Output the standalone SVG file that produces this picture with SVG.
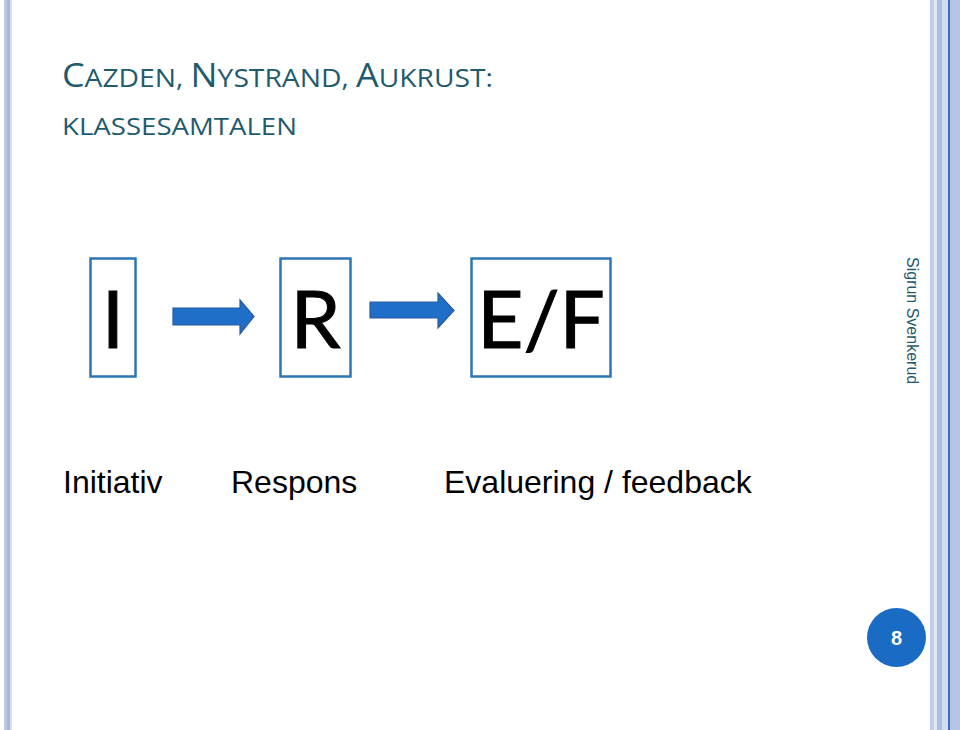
<svg xmlns="http://www.w3.org/2000/svg" width="960" height="730" viewBox="0 0 960 730">
<style>
.title{font-family:"Open Sans",Lato,"Liberation Sans",sans-serif;fill:#1f5b6e}
.box{fill:#ffffff;stroke:#2e75b6;stroke-width:2.5}
.big{font-family:Lato,"Open Sans","Liberation Sans",sans-serif;font-size:80px;fill:#000000;stroke:#000000;stroke-width:1}
.lbl{font-family:"Liberation Sans",Arial,sans-serif;font-size:32px;fill:#000000}
.arrow{fill:#1f6fc8;stroke:#2a5a9c;stroke-width:1.2}
</style>
<rect width="960" height="730" fill="#ffffff"/>
<!-- left bars -->
<rect x="4" y="0" width="3" height="730" fill="#bcc8e6"/>
<rect x="7" y="0" width="3.5" height="730" fill="#a8b6dc"/>
<rect x="10.5" y="0" width="1.5" height="730" fill="#d8e0f2"/>
<!-- right bars -->
<rect x="930" y="0" width="4" height="730" fill="#c3cee9"/>
<rect x="934" y="0" width="3" height="730" fill="#e2e8f5"/>
<rect x="937" y="0" width="5" height="730" fill="#aebcdf"/>
<rect x="942" y="0" width="6" height="730" fill="#d3dcf0"/>
<rect x="948" y="0" width="2" height="730" fill="#3a6cc2"/>
<rect x="950" y="0" width="10" height="730" fill="#b5c3e5"/>

<g id="title">
<text class="title" x="62" y="87" textLength="431" lengthAdjust="spacingAndGlyphs"><tspan font-size="33">C</tspan><tspan font-size="26">AZDEN, </tspan><tspan font-size="33">N</tspan><tspan font-size="26">YSTRAND, </tspan><tspan font-size="33">A</tspan><tspan font-size="26">UKRUST:</tspan></text>
<text class="title" x="62" y="135" font-size="24" textLength="235" lengthAdjust="spacingAndGlyphs">KLASSESAMTALEN</text>
</g>

<g id="node-I">
<rect class="box" x="90.5" y="258.5" width="45" height="118"/>
<text class="big" x="113" y="348" text-anchor="middle">I</text>
</g>
<g id="node-R">
<rect class="box" x="280.5" y="258.5" width="70" height="118"/>
<text class="big" x="315.5" y="348" text-anchor="middle">R</text>
</g>
<g id="node-EF">
<rect class="box" x="471.5" y="258.5" width="139" height="118"/>
<text class="big" x="541" y="348" text-anchor="middle">E/F</text>
</g>

<g id="connectors">
<polygon class="arrow" points="173,308 240,308 240,300 254,316.5 240,334 240,325 173,325"/>
<polygon class="arrow" points="370,302 438,302 438,293 454,310.5 438,328 438,318 370,318"/>
</g>

<g id="labels">
<text class="lbl" x="63" y="493">Initiativ</text>
<text class="lbl" x="231" y="493">Respons</text>
<text class="lbl" x="444" y="493">Evaluering / feedback</text>
</g>

<g id="author">
<text x="0" y="0" transform="translate(907,257) rotate(90)" font-family="'Liberation Sans',Arial,sans-serif" font-size="16" fill="#1f5b6e">Sigrun Svenkerud</text>
</g>

<g id="page">
<circle cx="896.5" cy="637.5" r="29.5" fill="#1a6bc4"/>
<text x="896.5" y="645" text-anchor="middle" font-family="'Liberation Sans',Arial,sans-serif" font-weight="bold" font-size="20" fill="#ffffff">8</text>
</g>
</svg>
